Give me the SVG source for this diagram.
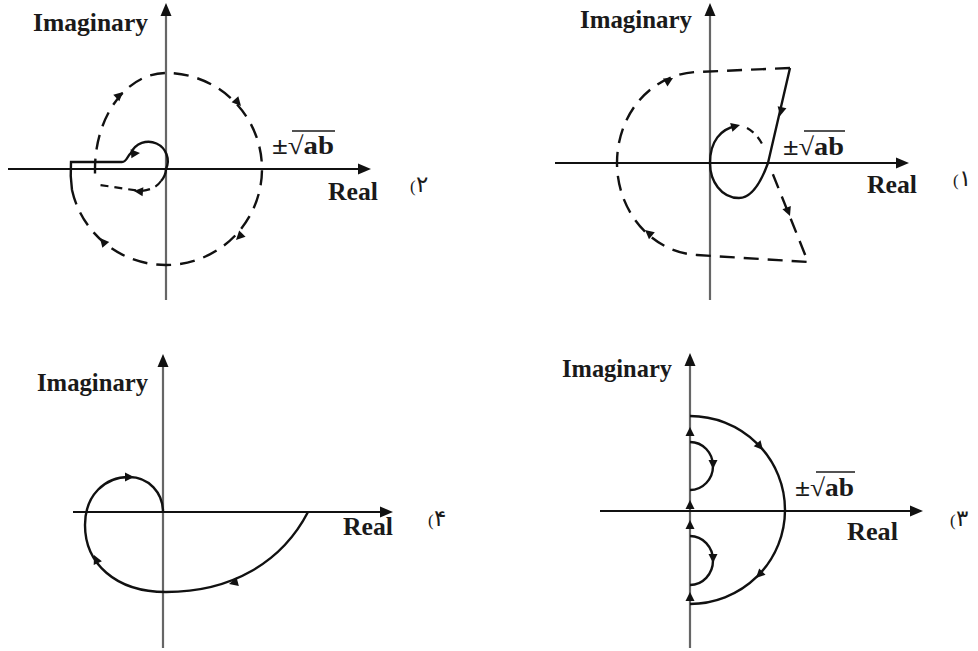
<svg xmlns="http://www.w3.org/2000/svg" width="978" height="651" viewBox="0 0 978 651">
<style>
.lbl{font-family:"Liberation Serif","Times New Roman",serif;font-weight:bold;font-size:25px;fill:#1a1a1a}
.par{font-family:"Liberation Serif","Times New Roman",serif;font-size:17px;fill:#1a1a1a}
.num{font-family:"DejaVu Sans","Noto Sans",sans-serif;font-size:23px;fill:#1a1a1a}
.vax{stroke:#666;stroke-width:2.2;fill:none}
.hax{stroke:#111;stroke-width:2;fill:none}
.solid{stroke:#111;stroke-width:2.4;fill:none}
.dash{stroke:#111;stroke-width:2.4;fill:none;stroke-dasharray:15 9}
.dashs{stroke:#111;stroke-width:2.2;fill:none;stroke-dasharray:8 6}
.ovl{stroke:#1a1a1a;stroke-width:1.6}
.ah{fill:#111}
</style>
<defs>
<path id="big" d="M0,0 L-13,-5.5 L-13,5.5 Z"/>
<path id="sm" d="M0,0 L-9,-4.5 L-9,4.5 Z"/>
</defs>
<rect width="978" height="651" fill="#fff"/>

<!-- Panel 2 (top-left) -->
<g id="panel2">
  <line class="vax" x1="166" y1="300" x2="166" y2="10"/>
  <line class="hax" x1="8" y1="169" x2="360" y2="169"/>
  <use href="#big" class="ah" transform="translate(166,3) rotate(-90)"/>
  <use href="#big" class="ah" transform="translate(371,169)"/>
  <path class="dash" d="M72 190 A96 96 0 0 0 166 265 A96 96 0 0 0 262 169 A96 96 0 0 0 166 73 A71 96 0 0 0 95 169 L95 178"/>
  <path class="solid" d="M72 190 Q70 176 71 162 L122 162 C127 162 127 156 131 153 A19 19 0 0 1 166 169 A19 19 0 0 1 161 181"/>
  <path class="dashs" d="M161 181 Q155 190 140 191 L100 185"/>
  <use href="#sm" class="ah" transform="translate(123,92) rotate(-42)"/>
  <use href="#sm" class="ah" transform="translate(241,106) rotate(48)"/>
  <use href="#sm" class="ah" transform="translate(236,240) rotate(135)"/>
  <use href="#sm" class="ah" transform="translate(100,238) rotate(-130)"/>
  <use href="#sm" class="ah" transform="translate(140,153) rotate(-5)"/>
  <use href="#sm" class="ah" transform="translate(134,191) rotate(185)"/>
  <text class="lbl" x="33" y="31" textLength="115" lengthAdjust="spacingAndGlyphs">Imaginary</text>
  <text class="lbl" x="272" y="154" textLength="62" lengthAdjust="spacingAndGlyphs">±√ab</text>
  <line class="ovl" x1="292" y1="131" x2="335" y2="131"/>
  <text class="lbl" x="328" y="200" textLength="50" lengthAdjust="spacingAndGlyphs">Real</text>
  <text class="par" x="410" y="192">(</text>
  <text class="num" x="416" y="192">۲</text>
</g>

<!-- Panel 1 (top-right) -->
<g id="panel1">
  <line class="vax" x1="710" y1="300" x2="710" y2="10"/>
  <line class="hax" x1="555" y1="163" x2="898" y2="163"/>
  <use href="#big" class="ah" transform="translate(710,3) rotate(-90)"/>
  <use href="#big" class="ah" transform="translate(909,163)"/>
  <path class="dash" d="M790 68 L697 72 C650 74 617 115 617 163 C617 210 650 252 697 255 L808 262 L770 167"/>
  <path class="solid" d="M790 68 L768 163 C760 185 751 198 739 198 C721 198 710 181 710 163 C710 141 721 129 736 126"/>
  <path class="dashs" d="M747 128 Q758 134 764 148"/>
  <use href="#sm" class="ah" transform="translate(780,116) rotate(103)"/>
  <use href="#sm" class="ah" transform="translate(790,216) rotate(68)"/>
  <use href="#sm" class="ah" transform="translate(740,125) rotate(-15)"/>
  <use href="#sm" class="ah" transform="translate(673,78) rotate(-30)"/>
  <use href="#sm" class="ah" transform="translate(645,230) rotate(-140)"/>
  <text class="lbl" x="580" y="28" textLength="112" lengthAdjust="spacingAndGlyphs">Imaginary</text>
  <text class="lbl" x="783" y="155" textLength="61" lengthAdjust="spacingAndGlyphs">±√ab</text>
  <line class="ovl" x1="804" y1="131" x2="845" y2="131"/>
  <text class="lbl" x="867" y="193" textLength="50" lengthAdjust="spacingAndGlyphs">Real</text>
  <text class="par" x="953" y="186">(</text>
  <text class="num" x="959" y="186">۱</text>
</g>

<!-- Panel 4 (bottom-left) -->
<g id="panel4">
  <line class="vax" x1="163" y1="648" x2="163" y2="362"/>
  <line class="hax" x1="73" y1="512" x2="382" y2="512"/>
  <use href="#big" class="ah" transform="translate(163,354) rotate(-90)"/>
  <use href="#big" class="ah" transform="translate(393,512)"/>
  <path class="solid" d="M308 512 C282 562 232 592 166 592 C115 592 85 563 85 525 C85 495 105 477 129 477 C149 477 163 493 163 512"/>
  <use href="#sm" class="ah" transform="translate(134,477)"/>
  <use href="#sm" class="ah" transform="translate(94,555) rotate(-115)"/>
  <use href="#sm" class="ah" transform="translate(229,584) rotate(165)"/>
  <text class="lbl" x="37" y="391" textLength="111" lengthAdjust="spacingAndGlyphs">Imaginary</text>
  <text class="lbl" x="343" y="535" textLength="50" lengthAdjust="spacingAndGlyphs">Real</text>
  <text class="par" x="428" y="526">(</text>
  <text class="num" x="434" y="526">۴</text>
</g>

<!-- Panel 3 (bottom-right) -->
<g id="panel3">
  <line class="vax" x1="690" y1="648" x2="690" y2="362"/>
  <line class="hax" x1="600" y1="511" x2="912" y2="511"/>
  <use href="#big" class="ah" transform="translate(690,353) rotate(-90)"/>
  <use href="#big" class="ah" transform="translate(923,511)"/>
  <path class="solid" d="M690 416 A95 94 0 0 1 690 604"/>
  <path class="solid" d="M690 442 A23 24 0 0 1 690 490"/>
  <path class="solid" d="M690 536 A23 24.5 0 0 1 690 585"/>
  <use href="#sm" class="ah" transform="translate(763,450) rotate(49)"/>
  <use href="#sm" class="ah" transform="translate(756,578) rotate(135)"/>
  <use href="#sm" class="ah" transform="translate(713,469) rotate(90)"/>
  <use href="#sm" class="ah" transform="translate(713,563) rotate(90)"/>
  <use href="#sm" class="ah" transform="translate(690,427) rotate(-90)"/>
  <use href="#sm" class="ah" transform="translate(690,500) rotate(-90)"/>
  <use href="#sm" class="ah" transform="translate(690,520) rotate(-90)"/>
  <use href="#sm" class="ah" transform="translate(690,592) rotate(-90)"/>
  <text class="lbl" x="562" y="377" textLength="110" lengthAdjust="spacingAndGlyphs">Imaginary</text>
  <text class="lbl" x="795" y="496" textLength="59" lengthAdjust="spacingAndGlyphs">±√ab</text>
  <line class="ovl" x1="816" y1="472" x2="855" y2="472"/>
  <text class="lbl" x="847" y="540" textLength="51" lengthAdjust="spacingAndGlyphs">Real</text>
  <text class="par" x="950" y="526">(</text>
  <text class="num" x="956" y="526">۳</text>
</g>
</svg>
